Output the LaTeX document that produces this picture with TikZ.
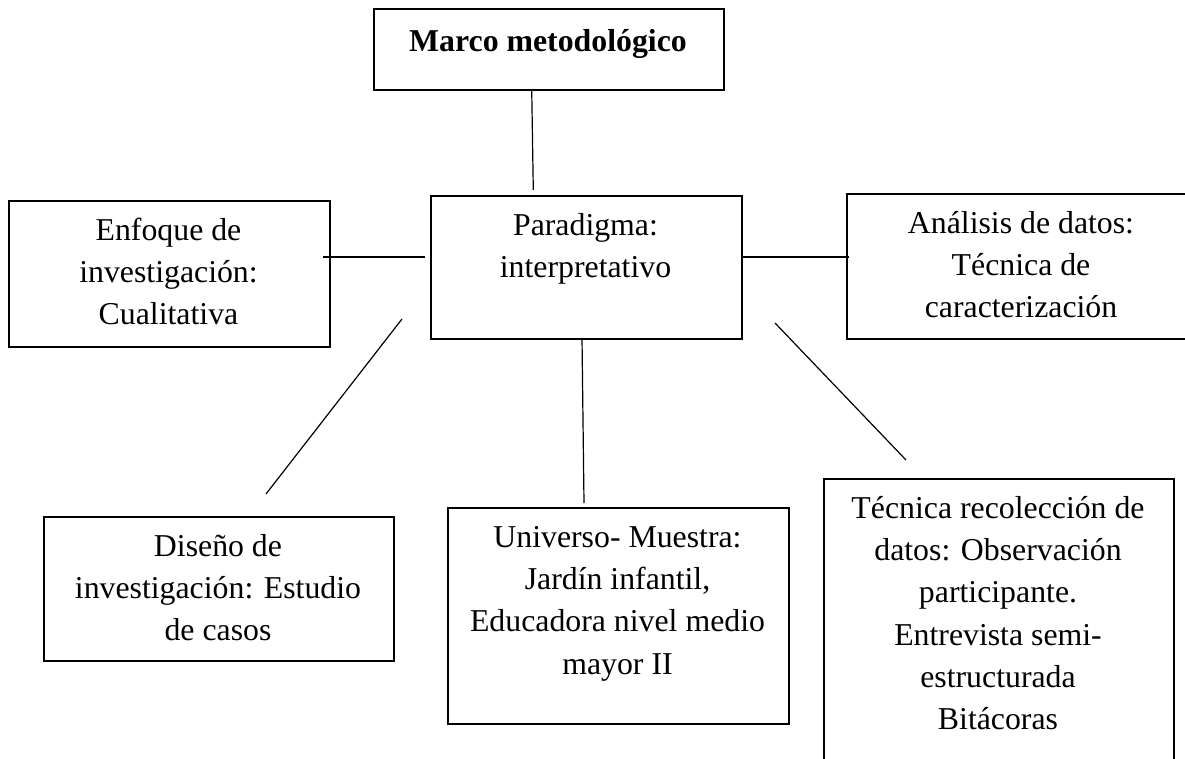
\documentclass[tikz,border=0pt]{standalone}
\usepackage{fontspec}
\setmainfont{Liberation Serif}
\begin{document}
\begin{tikzpicture}[x=1pt,y=1pt,
  box/.style={draw, line width=1.6pt, rectangle, inner sep=0pt, anchor=north west},
  txt/.style={align=center, inner sep=0pt, anchor=north, font=\fontsize{31.8}{42.3}\selectfont},
  link/.style={line width=1.2pt}]
\useasboundingbox (0,0) rectangle (1185,-759);
\fill[white] (0,0) rectangle (1185,-759);
\clip (0,0) rectangle (1185,-759);
% boxes
\node[box, minimum width=350pt, minimum height=81pt]  (marco)    at (373,-8)   {};
\node[box, minimum width=321pt, minimum height=146pt] (enfoque)  at (8,-200)   {};
\node[box, minimum width=311pt, minimum height=143pt] (paradigma) at (430,-195) {};
\node[box, minimum width=354pt, minimum height=145pt] (analisis) at (846,-193)  {};
\node[box, minimum width=350pt, minimum height=144pt] (diseno)   at (43,-516)   {};
\node[box, minimum width=341pt, minimum height=216pt] (universo) at (447,-507)  {};
\node[box, minimum width=350pt, minimum height=322pt] (tecnica)  at (823,-478)  {};
% texts (north = first baseline - 0.7*baselineskip)
\node[txt, font=\fontsize{31.8}{42.3}\selectfont\bfseries] (marcoT) at (548,-21.4) {\strut Marco metodológico};
\node[txt] (paradigmaT) at (585.5,-205.4) {\strut Paradigma:\\interpretativo};
\node[txt] (enfoqueT) at (168.5,-210.4) {\strut Enfoque de\\investigación:\\Cualitativa};
\node[txt] (analisisT) at (1021,-203.4) {\strut Análisis de datos:\\Técnica de\\caracterización};
\node[txt] (disenoT) at (218,-526.4) {\strut Diseño de\\investigación: Estudio\\de casos};
\node[txt] (universoT) at (617.5,-517.4) {\strut Universo- Muestra:\\Jardín infantil,\\Educadora nivel medio\\mayor II};
\node[txt] (tecnicaT) at (998,-488.4) {\strut Técnica recolección de\\datos: Observación\\participante.\\Entrevista semi-\\estructurada\\Bitácoras};
% connector end points
\coordinate (marcoS) at (531.7,-89);
\coordinate (paradigmaN) at (533.3,-190);
\coordinate (enfoqueE) at (323,-257);
\coordinate (paradigmaW) at (425,-257);
\coordinate (paradigmaE) at (743,-257);
\coordinate (analisisW) at (849,-257);
\coordinate (paradigmaSW) at (402,-319);
\coordinate (disenoN) at (266,-494);
\coordinate (paradigmaS) at (582,-338);
\coordinate (universoN) at (584,-503);
\coordinate (paradigmaSE) at (775,-323);
\coordinate (tecnicaN) at (906,-460);
% connectors
\draw[link] (marcoS) -- (paradigmaN);
\draw[link, line width=1.6pt] (enfoqueE) -- (paradigmaW);
\draw[link, line width=1.6pt] (paradigmaE) -- (analisisW);
\draw[link] (paradigmaSW) -- (disenoN);
\draw[link] (paradigmaS) -- (universoN);
\draw[link] (paradigmaSE) -- (tecnicaN);
\end{tikzpicture}
\end{document}
